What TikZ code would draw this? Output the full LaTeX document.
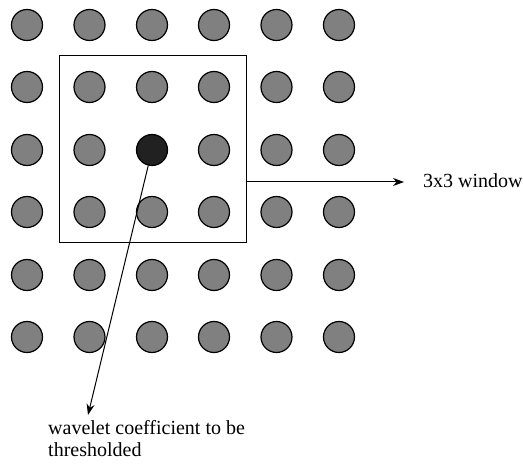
\documentclass[tikz,border=0pt]{standalone}
\usepackage{fontspec}
\setmainfont{Liberation Serif}
\usetikzlibrary{arrows.meta}
\begin{document}
\begin{tikzpicture}[x=1pt,y=-1pt,
  dot/.style={circle,draw=black,line width=1.2pt,fill=gray!100!white,minimum size=31pt,inner sep=0pt},
  darkdot/.style={dot,fill=black!87},
  win/.style={draw=black,line width=1pt},
  arr/.style={line width=1pt,-{Stealth[length=11pt,width=8pt]}},
  lbl/.style={font=\fontsize{20}{21.5}\selectfont,inner sep=0pt}]
\useasboundingbox (0,0) rectangle (523,470);
\node[win,minimum width=187pt,minimum height=187pt,inner sep=0pt] (w) at (152.5,149.5) {};
\foreach \i/\x in {1/27,2/89.5,3/152,4/214,5/276.5,6/339}{
  \foreach \j/\y in {1/25,2/87,3/150,4/212,5/275,6/337}{
    \ifnum\i=3 \ifnum\j=3 \else \node[dot] (c\i\j) at (\x,\y) {}; \fi
    \else \node[dot] (c\i\j) at (\x,\y) {}; \fi
  }
}
\node[darkdot] (c33) at (152,150) {};
\coordinate (t1) at (404,182);
\node[lbl,anchor=base west] (l1) at (423,188) {3x3 window};
\coordinate (t2) at (88,415);
\node[lbl,anchor=base west,align=left] (l2) at (48,456.5) {wavelet coefficient to be\\thresholded};
\draw[arr] (w.east |- t1) -- (t1);
\draw[arr] (c33) -- (t2);
\end{tikzpicture}
\end{document}
